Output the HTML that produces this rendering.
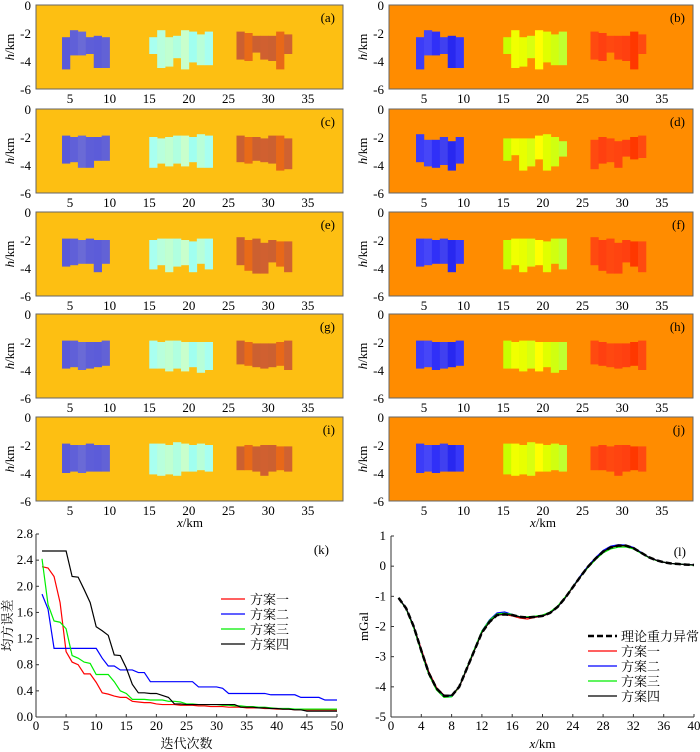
<!DOCTYPE html>
<html><head><meta charset="utf-8">
<style>
html,body{margin:0;padding:0;background:#fff;}
svg{display:block;font-family:"Liberation Serif","Noto Serif CJK SC",serif;}
</style></head>
<body>
<svg id="fig" width="700" height="752" viewBox="0 0 700 752"></svg>
<script>
// ---------- model panel data ----------
const groupStarts = [4, 15, 26];
const groupCounts = [6, 8, 7];
const panelLabels = ['a','b','c','d','e','f','g','h','i','j'];
const topsA = [-2.3,-1.8,-1.9,-2.3,-2.2,-2.3, -2.3,-1.8,-2.3,-2.2,-1.8,-1.9,-2.1,-1.9, -1.9,-2.0,-2.2,-2.2,-2.2,-1.9,-2.1];
const botsA = [-4.6,-3.6,-3.6,-3.5,-4.5,-4.5, -3.5,-4.5,-4.4,-3.8,-4.6,-4.1,-4.3,-4.3, -3.9,-4.0,-3.4,-3.9,-4.0,-4.6,-3.5];
const topsC = [-1.9,-2.0,-1.9,-2.0,-2.0,-1.9, -2.0,-2.1,-2.0,-1.9,-1.9,-2.0,-1.8,-1.9, -1.9,-2.0,-2.0,-2.1,-1.9,-1.9,-2.1];
const botsC = [-3.9,-3.8,-4.2,-4.2,-3.7,-3.7, -4.2,-3.9,-4.1,-3.9,-4.1,-3.8,-4.2,-4.2, -3.8,-3.9,-3.7,-3.8,-3.9,-4.4,-4.3];
const topsD = [-1.8,-2.2,-2.2,-2.0,-2.3,-2.0, -2.1,-2.1,-2.1,-2.1,-1.9,-1.8,-2.0,-2.3, -2.2,-2.0,-2.1,-2.3,-2.2,-2.0,-1.9];
const botsD = [-3.8,-4.1,-4.2,-4.0,-4.4,-3.9, -3.7,-3.3,-4.4,-4.1,-3.6,-4.4,-4.1,-3.4, -4.3,-3.9,-3.8,-4.2,-3.4,-3.6,-3.5];
const topsE = [-1.9,-1.9,-2.0,-1.9,-2.0,-2.0, -2.0,-1.9,-1.9,-1.9,-2.0,-2.1,-1.9,-1.9, -1.8,-2.0,-1.9,-2.2,-2.0,-2.1,-2.1];
const botsE = [-3.9,-3.8,-3.7,-3.7,-4.3,-3.7, -4.1,-3.8,-4.3,-3.9,-3.8,-4.3,-3.7,-4.1, -3.8,-4.2,-4.4,-4.4,-3.6,-3.9,-4.3];
const topsG = [-1.9,-1.9,-2.0,-2.0,-2.0,-1.9, -1.9,-2.0,-1.9,-1.9,-2.0,-2.0,-2.0,-2.0, -1.9,-2.0,-2.1,-2.1,-2.1,-2.0,-1.9];
const botsG = [-3.9,-3.8,-4.0,-3.9,-3.8,-3.7, -3.9,-3.9,-4.1,-3.9,-4.1,-3.8,-4.2,-4.0, -3.6,-3.7,-3.8,-3.9,-3.8,-3.7,-4.0];
const topsI = [-1.9,-2.0,-2.0,-1.9,-2.0,-2.0, -1.9,-1.9,-2.0,-1.8,-1.9,-2.0,-1.9,-2.0, -2.1,-2.0,-2.1,-2.0,-2.0,-2.1,-2.1];
const botsI = [-4.0,-3.9,-4.0,-3.9,-3.9,-3.9, -4.1,-4.2,-4.1,-4.2,-3.9,-3.9,-3.8,-3.9, -3.8,-3.8,-3.9,-4.2,-3.9,-3.8,-3.9];
const colorsLeft = ['#5a5ad8','#6060d8','#6a6ad6','#5e5ed8','#5c5cd9','#6262d6',
  '#a8fff0','#b8ffdc','#c0ffd0','#b0ffe0','#c8ffcc','#a0fff0','#b8ffd8','#a8fff0',
  '#cc6030','#e86a18','#cc6030','#d06030','#cc6030','#e86818','#d06230'];
const colorsRight = ['#3c3cf8','#4646f8','#3030f8','#4040f0','#2828f0','#3838f8',
  '#c8ff00','#f0ff00','#e8ff00','#d8ff10','#ffff00','#e0ff00','#d0ff10','#c0ff30',
  '#ff4a10','#ff4010','#ff4810','#ff4410','#ff4010','#ff3800','#ff4a10'];
const xTicksTop = [5,10,15,20,25,30,35];
const yTicksTop = [0,-2,-4,-6];

// ---------- convergence chart (k) ----------
const iterX = Array.from({length:50},(_,i)=>i+1);
const errRed   = [2.3,2.28,2.15,1.75,1.0,0.84,0.8,0.66,0.66,0.53,0.37,0.35,0.32,0.3,0.3,0.24,0.23,0.22,0.22,0.2,0.19,0.19,0.19,0.18,0.18,0.18,0.17,0.17,0.16,0.16,0.16,0.15,0.15,0.15,0.14,0.14,0.14,0.13,0.13,0.12,0.12,0.12,0.11,0.11,0.11,0.11,0.11,0.11,0.11,0.11];
const errBlue  = [1.88,1.65,1.05,1.05,1.05,1.05,1.05,1.05,1.05,1.05,0.9,0.78,0.78,0.72,0.72,0.72,0.68,0.68,0.54,0.54,0.54,0.54,0.54,0.54,0.54,0.54,0.46,0.46,0.46,0.46,0.44,0.36,0.36,0.36,0.36,0.36,0.36,0.36,0.34,0.34,0.34,0.34,0.34,0.3,0.3,0.3,0.3,0.26,0.26,0.26];
const errGreen = [2.42,1.72,1.47,1.45,1.35,0.94,0.9,0.84,0.82,0.65,0.65,0.65,0.54,0.4,0.36,0.27,0.27,0.27,0.26,0.26,0.26,0.24,0.24,0.23,0.2,0.2,0.19,0.19,0.19,0.19,0.18,0.18,0.17,0.17,0.16,0.16,0.15,0.15,0.14,0.13,0.13,0.13,0.12,0.12,0.12,0.12,0.12,0.12,0.12,0.12];
const errBlack = [2.54,2.54,2.54,2.54,2.54,2.15,2.14,1.95,1.75,1.38,1.32,1.25,0.95,0.94,0.75,0.5,0.37,0.37,0.36,0.36,0.33,0.3,0.2,0.2,0.19,0.19,0.19,0.19,0.19,0.19,0.19,0.19,0.19,0.15,0.15,0.15,0.14,0.14,0.13,0.13,0.12,0.12,0.11,0.11,0.09,0.09,0.09,0.09,0.09,0.09];
const kXTicks = [0,5,10,15,20,25,30,35,40,45,50];
const kYTicks = [0,0.4,0.8,1.2,1.6,2.0,2.4,2.8];

// ---------- gravity chart (l) ----------
const gx = Array.from({length:40},(_,i)=>i+1);
const gTheory = [-1.05,-1.4,-2.0,-2.8,-3.55,-4.05,-4.3,-4.3,-4.0,-3.4,-2.8,-2.2,-1.85,-1.62,-1.6,-1.62,-1.68,-1.7,-1.68,-1.65,-1.55,-1.35,-1.05,-0.7,-0.35,-0.02,0.25,0.48,0.62,0.68,0.68,0.6,0.45,0.3,0.2,0.13,0.09,0.07,0.05,0.04];
const gRed   = [-1.05,-1.4,-2.0,-2.75,-3.5,-4.02,-4.28,-4.32,-4.02,-3.42,-2.8,-2.2,-1.85,-1.62,-1.6,-1.65,-1.72,-1.75,-1.7,-1.66,-1.55,-1.35,-1.05,-0.7,-0.35,-0.02,0.25,0.48,0.62,0.68,0.68,0.6,0.45,0.3,0.2,0.13,0.09,0.07,0.05,0.04];
const gBlue  = [-1.05,-1.4,-2.0,-2.8,-3.55,-4.05,-4.3,-4.3,-4.0,-3.4,-2.78,-2.15,-1.78,-1.55,-1.52,-1.6,-1.68,-1.7,-1.68,-1.65,-1.55,-1.35,-1.05,-0.68,-0.32,0.0,0.28,0.52,0.66,0.71,0.7,0.62,0.46,0.3,0.2,0.13,0.09,0.07,0.05,0.04];
const gGreen = [-1.05,-1.42,-2.05,-2.85,-3.6,-4.1,-4.35,-4.33,-4.0,-3.38,-2.75,-2.15,-1.8,-1.58,-1.56,-1.6,-1.68,-1.68,-1.66,-1.62,-1.52,-1.32,-1.02,-0.68,-0.35,-0.05,0.22,0.44,0.57,0.63,0.64,0.57,0.43,0.29,0.19,0.13,0.09,0.07,0.05,0.03];
const gBlack = [-1.05,-1.4,-2.0,-2.8,-3.55,-4.05,-4.28,-4.28,-4.0,-3.4,-2.8,-2.2,-1.85,-1.62,-1.6,-1.62,-1.68,-1.7,-1.68,-1.65,-1.55,-1.35,-1.05,-0.7,-0.35,-0.02,0.25,0.48,0.62,0.68,0.68,0.6,0.45,0.3,0.2,0.13,0.09,0.07,0.05,0.04];
const lXTicks = [0,4,8,12,16,20,24,28,32,36,40];
const lYTicks = [1,0,-1,-2,-3,-4,-5];

const NS='http://www.w3.org/2000/svg';
const svg=document.getElementById('fig');
function mk(tag,attrs,parent,text){const e=document.createElementNS(NS,tag);for(const k in attrs)e.setAttribute(k,attrs[k]);if(text!==undefined)e.textContent=text;(parent||svg).appendChild(e);return e;}

const panelTops=[5,109,212,314,417];
const panelH=84;
const geo=[[topsA,botsA],[topsA,botsA],[topsC,botsC],[topsD,botsD],[topsE,botsE],[topsE,botsE],[topsG,botsG],[topsG,botsG],[topsI,botsI],[topsI,botsI]];
for(let p=0;p<10;p++){
  const row=Math.floor(p/2), right=p%2===1;
  const X0=right?389:36, X1=right?693:343, Y0=panelTops[row], Y1=Y0+panelH;
  const off=right?384.3:30.3, kx=7.93;
  const sx=v=>off+kx*v, sy=v=>Y0+(-v)*(panelH/6);
  const g=mk('g',{},svg);
  
  
  const bg=mk('rect',{x:X0,y:Y0,width:X1-X0,height:panelH,fill:right?'#ff8c00':'#fdbf12'},g);
  
  
  const [tops,bots]=geo[p];
  let idx=0;
  for(let gi=0;gi<3;gi++){
    for(let c=0;c<groupCounts[gi];c++){
      const xs=groupStarts[gi]+c;
      const r=mk('rect',{x:sx(xs),y:sy(tops[idx]),width:kx+0.3,height:sy(bots[idx])-sy(tops[idx]),fill:(right?colorsRight:colorsLeft)[idx]},g);
      
      
      idx++;
    }
  }
  mk('rect',{x:X0,y:Y0,width:X1-X0,height:panelH,fill:'none',stroke:'#666','stroke-width':1},g);
  yTicksTop.forEach(t=>{const tl=mk('text',{x:X0-5,y:sy(t)+5,'text-anchor':'end','font-size':13},g,String(t));});
  xTicksTop.forEach(t=>{const tl=mk('text',{x:sx(t),y:Y1+14,'text-anchor':'middle','font-size':13},g,String(t));});
  const lab=mk('text',{x:X1-8,y:Y0+17,'text-anchor':'end','font-size':13},g,'('+panelLabels[p]+')');
  
  
  const yl=mk('text',{transform:`translate(${X0-22},${Y0+panelH/2}) rotate(-90)`,'text-anchor':'middle','font-size':13},g);
  
  
  mk('tspan',{'font-style':'italic'},yl,'h');mk('tspan',{},yl,'/km');
}
[190,543].forEach(cx=>{const t=mk('text',{x:cx,y:527,'text-anchor':'middle','font-size':13});mk('tspan',{'font-style':'italic'},t,'x');mk('tspan',{},t,'/km');});

// chart k
(function(){
  const X0=36,X1=337,Y0=534,Y1=717;
  const sx=v=>X0+(X1-X0)*v/50, sy=v=>Y1-(Y1-Y0)*v/2.8;
  const g=mk('g',{});
  
  
  mk('line',{x1:X0,y1:Y0,x2:X0,y2:Y1,stroke:'#333'},g);
  mk('line',{x1:X0,y1:Y1,x2:X1,y2:Y1,stroke:'#333'},g);
  kXTicks.forEach(t=>{mk('line',{x1:sx(t),y1:Y1,x2:sx(t),y2:Y1-3,stroke:'#333'},g);const tl=mk('text',{x:sx(t),y:Y1+13,'text-anchor':'middle','font-size':13},g,String(t));});
  kYTicks.forEach(t=>{mk('line',{x1:X0,y1:sy(t),x2:X0+3,y2:sy(t),stroke:'#333'},g);const tl=mk('text',{x:X0-3,y:sy(t)+4,'text-anchor':'end','font-size':13},g,t.toFixed(1));});
  const series=[[errRed,'#ff0000','方案一'],[errBlue,'#0000ff','方案二'],[errGreen,'#00ee00','方案三'],[errBlack,'#000000','方案四']];
  series.forEach(([d,c,n],i)=>{
    const pl=mk('polyline',{points:d.map((v,j)=>sx(iterX[j])+','+sy(v)).join(' '),fill:'none',stroke:c,'stroke-width':1.2},g);
    
    
    const ly=599+i*15;
    const le=mk('g',{},g);
    
    
    mk('line',{x1:221,y1:ly,x2:245,y2:ly,stroke:c,'stroke-width':1.2},le);
    mk('text',{x:250,y:ly+5,'font-size':13},le,n);
  });
  const lab=mk('text',{x:X1-8,y:Y0+20,'text-anchor':'end','font-size':13},g,'(k)');
  
  const yl=mk('text',{transform:`translate(12,${(Y0+Y1)/2}) rotate(-90)`,'text-anchor':'middle','font-size':13},g,'均方误差');
  
  const xl=mk('text',{x:(X0+X1)/2,y:748,'text-anchor':'middle','font-size':13},g,'迭代次数');
  
})();

// chart l
(function(){
  const X0=391,X1=694,Y0=536,Y1=717;
  const sx=v=>X0+(X1-X0)*v/40, sy=v=>Y1-(Y1-Y0)*(v+5)/6;
  const g=mk('g',{});
  
  
  mk('line',{x1:X0,y1:Y0,x2:X0,y2:Y1,stroke:'#333'},g);
  mk('line',{x1:X0,y1:Y1,x2:X1,y2:Y1,stroke:'#333'},g);
  lXTicks.forEach(t=>{mk('line',{x1:sx(t),y1:Y1,x2:sx(t),y2:Y1-3,stroke:'#333'},g);const tl=mk('text',{x:sx(t),y:Y1+13,'text-anchor':'middle','font-size':13},g,String(t));});
  lYTicks.forEach(t=>{mk('line',{x1:X0,y1:sy(t),x2:X0+3,y2:sy(t),stroke:'#333'},g);const tl=mk('text',{x:X0-5,y:sy(t)+4,'text-anchor':'end','font-size':13},g,String(t));});
  const series=[[gRed,'#ff0000','方案一',1.2,null],[gBlue,'#0000ff','方案二',1.2,null],[gGreen,'#00ee00','方案三',1.2,null],[gBlack,'#000000','方案四',1.2,null],[gTheory,'#000000','理论重力异常',2.5,'6,3']];
  series.forEach(([d,c,n,w,da],i)=>{
    const at={points:d.map((v,j)=>sx(gx[j])+','+sy(v)).join(' '),fill:'none',stroke:c,'stroke-width':w};
    if(da)at['stroke-dasharray']=da;
    const pl=mk('polyline',at,g);
    
    
  });
  const legendOrder=[4,0,1,2,3];
  legendOrder.forEach((si,i)=>{
    const [d,c,n,w,da]=series[si];
    const ly=636+i*15;
    const le=mk('g',{},g);
    
    
    const at={x1:588,y1:ly,x2:617,y2:ly,stroke:c,'stroke-width':w};
    if(da)at['stroke-dasharray']=da;
    mk('line',at,le);
    mk('text',{x:621,y:ly+5,'font-size':13},le,n);
  });
  const lab=mk('text',{x:X1-8,y:Y0+20,'text-anchor':'end','font-size':13},g,'(l)');
  
  const yl=mk('text',{transform:`translate(368,${(Y0+Y1)/2}) rotate(-90)`,'text-anchor':'middle','font-size':13},g,'mGal');
  
  const xl=mk('text',{x:(X0+X1)/2,y:748,'text-anchor':'middle','font-size':13},g);
  
  mk('tspan',{'font-style':'italic'},xl,'x');mk('tspan',{},xl,'/km');
})();
</script>
</body></html>
